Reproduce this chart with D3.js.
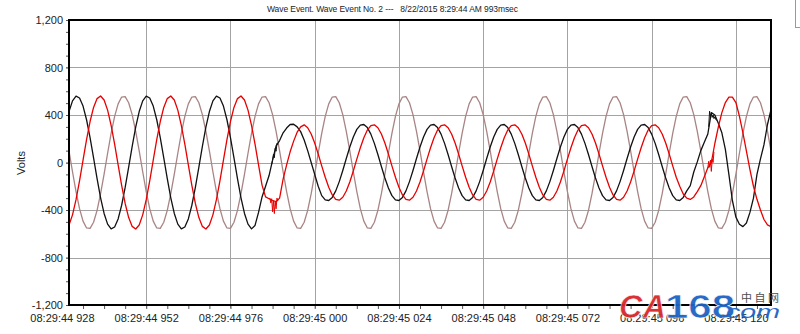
<!DOCTYPE html>
<html><head><meta charset="utf-8">
<script src="https://cdnjs.cloudflare.com/ajax/libs/d3/7.8.5/d3.min.js"></script>
<style>
html,body{margin:0;padding:0;background:#fff;}
svg{display:block;font-family:"Liberation Sans",Arial,sans-serif;}
</style></head><body>
<svg id="chart" width="800" height="334"></svg>
<script>
// ---- data ----
const titleText = "Wave Event. Wave Event No. 2 ---\u00a0\u00a0 8/22/2015 8:29:44 AM 993msec";
const yAxisTitle = "Volts";
const sampleStartMs = 930;   // ms after 08:29:44
const sampleStepMs = 1;

const phaseBlack = [
429,519,559,543,475,360,210,39,-135,-297,-429,-519,-559,-543,-475,-360,-210,-39,135,297,
429,519,559,543,475,360,210,39,-135,-297,-429,-519,-559,-543,-475,-360,-210,-39,135,297,
429,519,559,543,475,360,210,39,-135,-297,-429,-519,-559,
-530,-420,-290,-200,-110,20,140,185,250,290,320,322,300,260,190,100,0,-100,-200,-279,-315,-320,-294,-239,-161,-67,34,
131,215,279,315,320,294,239,161,67,-34,-131,-215,-279,-315,-320,-294,-239,-161,-67,34,
131,215,279,315,320,294,239,161,67,-34,-131,-215,-279,-315,-320,-294,-239,-161,-67,34,
131,215,279,315,320,294,239,161,67,-34,-131,-215,-279,-315,-320,-294,-239,-161,-67,34,
131,215,279,315,320,294,239,161,67,-34,-131,-215,-279,-315,-320,-294,-239,-161,-67,34,
131,215,279,315,320,294,239,161,67,-34,-131,-215,-279,-315,-320,-294,-239,
-195,-80,5,100,170,240,420,400,330,250,110,-100,-320,-460,-520,-540,-510,-420,-300,-100,30,150,320,446
];

const phaseRed = [
-526,-441,-313,-154,20,192,345,464,538,560,526,441,313,154,-20,-192,-345,-464,-538,-560,
-526,-441,-313,-154,20,192,345,464,538,560,526,441,313,154,-20,-192,-345,-464,-538,-560,
-526,-441,-313,-154,20,192,345,464,538,560,526,441,313,154,-20,
-190,-290,-305,-320,-330,-300,-140,-20,90,180,255,300,
317,293,240,164,72,-28,-124,-209,-273,-310,-317,-293,-240,
-164,-72,28,124,209,273,310,317,293,240,164,72,-28,-124,-209,-273,-310,-317,-293,-240,
-164,-72,28,124,209,273,310,317,293,240,164,72,-28,-124,-209,-273,-310,-317,-293,-240,
-164,-72,28,124,209,273,310,317,293,240,164,72,-28,-124,-209,-273,-310,-317,-293,-240,
-164,-72,28,124,209,273,310,317,293,240,164,72,-28,-124,-209,-273,-310,-317,-293,-240,
-164,-72,28,124,209,273,310,317,293,240,164,72,-28,-124,
-200,-265,-300,-311,-290,-245,-195,-120,-45,0,160,300,420,505,550,550,505,390,250,95,-60,-200,-310,-400,-480,-525,-540
];

const phasePink = [
97,-78,-245,-389,-494,-551,-555,-503,-403,-263,-97,78,245,389,494,551,555,503,403,263,
97,-78,-245,-389,-494,-551,-555,-503,-403,-263,-97,78,245,389,494,551,555,503,403,263,
97,-78,-245,-389,-494,-551,-555,-503,-403,-263,-97,78,245,389,494,551,555,503,403,263,
97,-78,-245,-389,-494,-551,-555,-503,-403,-263,-97,78,245,389,494,551,555,503,403,263,
97,-78,-245,-389,-494,-551,-555,-503,-403,-263,-97,78,245,389,494,551,555,503,403,263,
97,-78,-245,-389,-494,-551,-555,-503,-403,-263,-97,78,245,389,494,551,555,503,403,263,
97,-78,-245,-389,-494,-551,-555,-503,-403,-263,-97,78,245,389,494,551,555,503,403,263,
97,-78,-245,-389,-494,-551,-555,-503,-403,-263,-97,78,245,389,494,551,555,503,403,263,
97,-78,-245,-389,-494,-551,-555,-503,-403,-263,-97,78,245,389,494,551,555,503,403,263,
97,-78,-245,-389,-494,-551,-555,-503,-403,-263,-97,78,245,389,494,551,555,503,403,263,
97
];

// fine-resolution transient bursts
const blackBurst1Ms = [987.75,988,988.25,988.5,988.75,989,989.25,989.5];
const blackBurst1V  = [-15,20,70,40,120,95,160,150];
const redBurst1Ms   = [987,987.25,987.5,987.75,988,988.25,988.5,988.75,989,989.25,989.5];
const redBurst1V    = [-305,-300,-340,-305,-415,-320,-430,-330,-390,-300,-320];
const blackBurst2Ms = [1112.25,1112.5,1112.75,1113,1113.25,1113.5,1113.75,1114,1114.25,1114.5];
const blackBurst2V  = [300,432,390,410,380,400,370,385,362,355];
const redBurst2Ms   = [1112,1112.25,1112.5,1112.75,1113,1113.25,1113.5,1113.75];
const redBurst2V    = [-45,10,-40,20,-75,30,0,90];

const xTickMs = [928,952,976,1000,1024,1048,1072,1096,1120];
const xTickLabels = ["08:29:44 928","08:29:44 952","08:29:44 976","08:29:45 000","08:29:45 024","08:29:45 048","08:29:45 072","08:29:45 096","08:29:45 120"];
const yTickValues = [-1200,-800,-400,0,400,800,1200];
const yTickLabels = ["-1,200","-800","-400","0","400","800","1,200"];

const seriesColors = {black:"#111111", red:"#e80000", pink:"#a98484"};

// ---- drawing ----
const svg = d3.select("#chart");
const L = 69, R = 771, T = 20, B = 305;
const x = d3.scaleLinear().domain([930, 1130]).range([L, R]);
const y = d3.scaleLinear().domain([-1200, 1200]).range([B, T]);
const timeMs = phaseBlack.map((_, i) => sampleStartMs + i * sampleStepMs);

svg.append("defs").append("clipPath").attr("id","plotclip")
  .append("rect").attr("x",L).attr("y",T).attr("width",R-L).attr("height",B-T);

// grid
const grid = svg.append("g").attr("stroke","#a3a3a3").attr("stroke-width",1).attr("shape-rendering","crispEdges");
grid.selectAll("line.v").data(xTickMs.filter(d => d > 930)).join("line")
  .attr("x1", d => Math.round(x(d)) + 0.5).attr("x2", d => Math.round(x(d)) + 0.5)
  .attr("y1", T).attr("y2", B + 3);
grid.selectAll("line.h").data(yTickValues.filter(d => d > -1200 && d < 1200)).join("line")
  .attr("x1", L - 3).attr("x2", R)
  .attr("y1", d => Math.round(y(d)) + 0.5).attr("y2", d => Math.round(y(d)) + 0.5);

// minor ticks
const yMinor = d3.axisLeft(y).tickValues(d3.range(-1200, 1201, 100)).tickSize(3).tickFormat("");
const gyMinor = svg.append("g").attr("transform",`translate(${L},0)`).call(yMinor);
gyMinor.select(".domain").remove();
gyMinor.selectAll("line").attr("stroke","#555");
const xMinor = d3.axisBottom(x).tickValues(d3.range(934, 1130, 6)).tickSize(4).tickFormat("");
const gxMinor = svg.append("g").attr("transform",`translate(0,${B})`).call(xMinor);
gxMinor.select(".domain").remove();
gxMinor.selectAll("line").attr("stroke","#555");

// series
const line = d3.line().x(d => x(d[0])).y(d => y(d[1]));
const plot = svg.append("g").attr("clip-path","url(#plotclip)").attr("fill","none")
  .attr("stroke-width",1.3).attr("stroke-linejoin","round");
const mk = (ts, vs) => ts.map((t, i) => [t, vs[i]]);
plot.append("path").attr("d", line(mk(timeMs, phasePink))).attr("stroke", seriesColors.pink);
plot.append("path").attr("d", line(mk(timeMs, phaseBlack))).attr("stroke", seriesColors.black);
plot.append("path").attr("d", line(mk(blackBurst1Ms, blackBurst1V))).attr("stroke", seriesColors.black).attr("stroke-width",1);
plot.append("path").attr("d", line(mk(blackBurst2Ms, blackBurst2V))).attr("stroke", seriesColors.black).attr("stroke-width",1);
plot.append("path").attr("d", line(mk(timeMs, phaseRed))).attr("stroke", seriesColors.red);
plot.append("path").attr("d", line(mk(redBurst1Ms, redBurst1V))).attr("stroke", seriesColors.red).attr("stroke-width",1);
plot.append("path").attr("d", line(mk(redBurst2Ms, redBurst2V))).attr("stroke", seriesColors.red).attr("stroke-width",1);

// frame
svg.append("rect").attr("x",L).attr("y",T).attr("width",R-L).attr("height",B-T)
  .attr("fill","none").attr("stroke","#000").attr("stroke-width",2);

// axis labels
const yAxis = d3.axisLeft(y).tickValues(yTickValues).tickSize(0).tickPadding(6)
  .tickFormat((d, i) => yTickLabels[i]);
const gy = svg.append("g").attr("transform",`translate(${L},0)`).call(yAxis);
gy.select(".domain").remove();
gy.selectAll("text").attr("font-size",11).attr("fill","#222").attr("font-family",'"Liberation Sans",Arial,sans-serif');

const xAxis = d3.axisBottom(x).tickValues(xTickMs).tickSize(0).tickPadding(9)
  .tickFormat((d, i) => xTickLabels[i]);
const gx = svg.append("g").attr("transform",`translate(0,${B})`).call(xAxis);
gx.select(".domain").remove();
gx.selectAll("text").attr("font-size",11).attr("fill","#222").attr("font-family",'"Liberation Sans",Arial,sans-serif');

svg.append("text").attr("transform","translate(25,163) rotate(-90)")
  .attr("text-anchor","middle").attr("font-size",11).attr("fill","#222").text(yAxisTitle);

svg.append("text").attr("x",267).attr("y",11.5).attr("font-size",8.5).attr("fill","#222")
  .attr("textLength",251).attr("lengthAdjust","spacing").text(titleText);

// legend box edge (cut off at right)
svg.append("rect").attr("x",795.5).attr("y",-5).attr("width",20).attr("height",32.5)
  .attr("fill","#fff").attr("stroke","#999").attr("stroke-width",1);

// watermark (overlays the last tick labels, as in the reference)
const wm = svg.append("g").attr("font-family",'"Liberation Sans",Arial,sans-serif').attr("opacity",0.95);
wm.append("text").attr("x",619).attr("y",318).attr("font-size",34).attr("font-weight","bold")
  .attr("font-style","italic").attr("fill","#d8282c").attr("stroke","#fff").attr("stroke-width",0.6)
  .attr("textLength",47).attr("lengthAdjust","spacingAndGlyphs").text("CA");
wm.append("text").attr("x",665).attr("y",318).attr("font-size",34).attr("font-weight","bold")
  .attr("fill","#1d63c4").attr("stroke","#fff").attr("stroke-width",0.6)
  .attr("textLength",70).attr("lengthAdjust","spacingAndGlyphs").text("168");
wm.append("text").attr("x",741).attr("y",302).attr("font-size",11)
  .attr("fill","#444").attr("font-family",'"Noto Sans CJK SC",sans-serif')
  .attr("textLength",38).attr("lengthAdjust","spacing").text("中自网");
wm.append("text").attr("x",718).attr("y",318).attr("font-size",18)
  .attr("font-style","italic").attr("fill","#1d63c4")
  .attr("textLength",62).attr("lengthAdjust","spacingAndGlyphs").text(".com");
</script>
</body></html>
